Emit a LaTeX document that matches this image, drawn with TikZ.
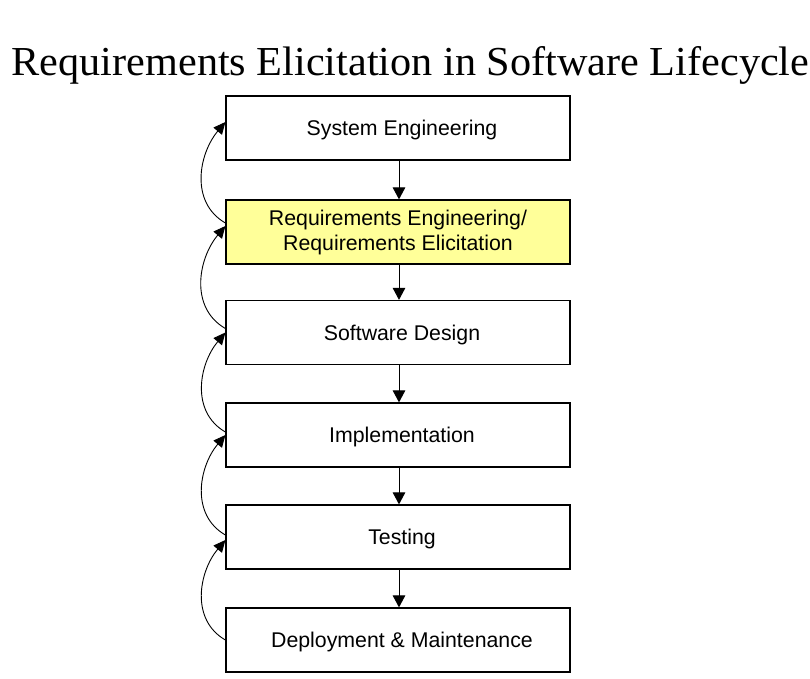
\documentclass[tikz,border=0pt]{standalone}
\usepackage{fontspec}
\setmainfont{Liberation Sans}
\newfontfamily\titlefont{Liberation Serif}
\usetikzlibrary{arrows.meta}
\definecolor{hiyellow}{RGB}{255,255,153}
\tikzset{
  stage/.style={draw=black, line width=1.2pt, fill=white, minimum width=344pt, minimum height=64pt,
    inner sep=0pt, font=\fontsize{21.3}{25}\selectfont, text height=15.3pt, text depth=0pt},
  offtext/.style={execute at begin node={\hspace*{8pt}}},
  flow/.style={line width=1pt, -{Triangle[length=12pt,width=12.5pt]}},
  back/.style={line width=0.9pt, -{Triangle[length=12pt,width=11pt]}, out=150, in=230, looseness=1.05}
}
\begin{document}
\begin{tikzpicture}[x=1pt,y=-1pt]
\fill[white] (0,0) rectangle (810,678);
\useasboundingbox (0,0) rectangle (810,678);
\node[anchor=base west, inner sep=0pt] (title) at (11.5,75)
  {\scalebox{1.056}[1.03]{\titlefont\fontsize{40}{48}\selectfont Requirements Elicitation in Software Lifecycle}};
\node[stage, offtext] (b1) at (398,128) {System Engineering};
\node[stage, fill=hiyellow, align=center, text height={}, text depth={}] (b2) at (398,232)
  {Requirements Engineering/\\Requirements Elicitation};
\node[stage, offtext] (b3) at (398,332.5) {Software Design};
\node[stage, offtext] (b4) at (398,435) {Implementation};
\node[stage, offtext] (b5) at (398,537) {Testing};
\node[stage, offtext] (b6) at (398,640) {Deployment \& Maintenance};
\draw[flow] ([xshift=1pt]b1.south) -- ([xshift=1pt]b2.north);
\draw[flow] ([xshift=1pt]b2.south) -- ([xshift=1pt]b3.north);
\draw[flow] ([xshift=1pt]b3.south) -- ([xshift=1pt]b4.north);
\draw[flow] ([xshift=1pt]b4.south) -- ([xshift=1pt]b5.north);
\draw[flow] ([xshift=1pt]b5.south) -- ([xshift=1pt]b6.north);
\draw[back] ([yshift=9pt]b2.west) to ([yshift=6pt]b1.west);
\draw[back] ([yshift=4pt]b3.west) to ([yshift=6pt]b2.west);
\draw[back] ([yshift=3pt]b4.west) to ([yshift=0pt]b3.west);
\draw[back] ([yshift=2pt]b5.west) to ([yshift=0pt]b4.west);
\draw[back] ([yshift=0pt]b6.west) to ([yshift=-3pt]b5.west);
\end{tikzpicture}
\end{document}
